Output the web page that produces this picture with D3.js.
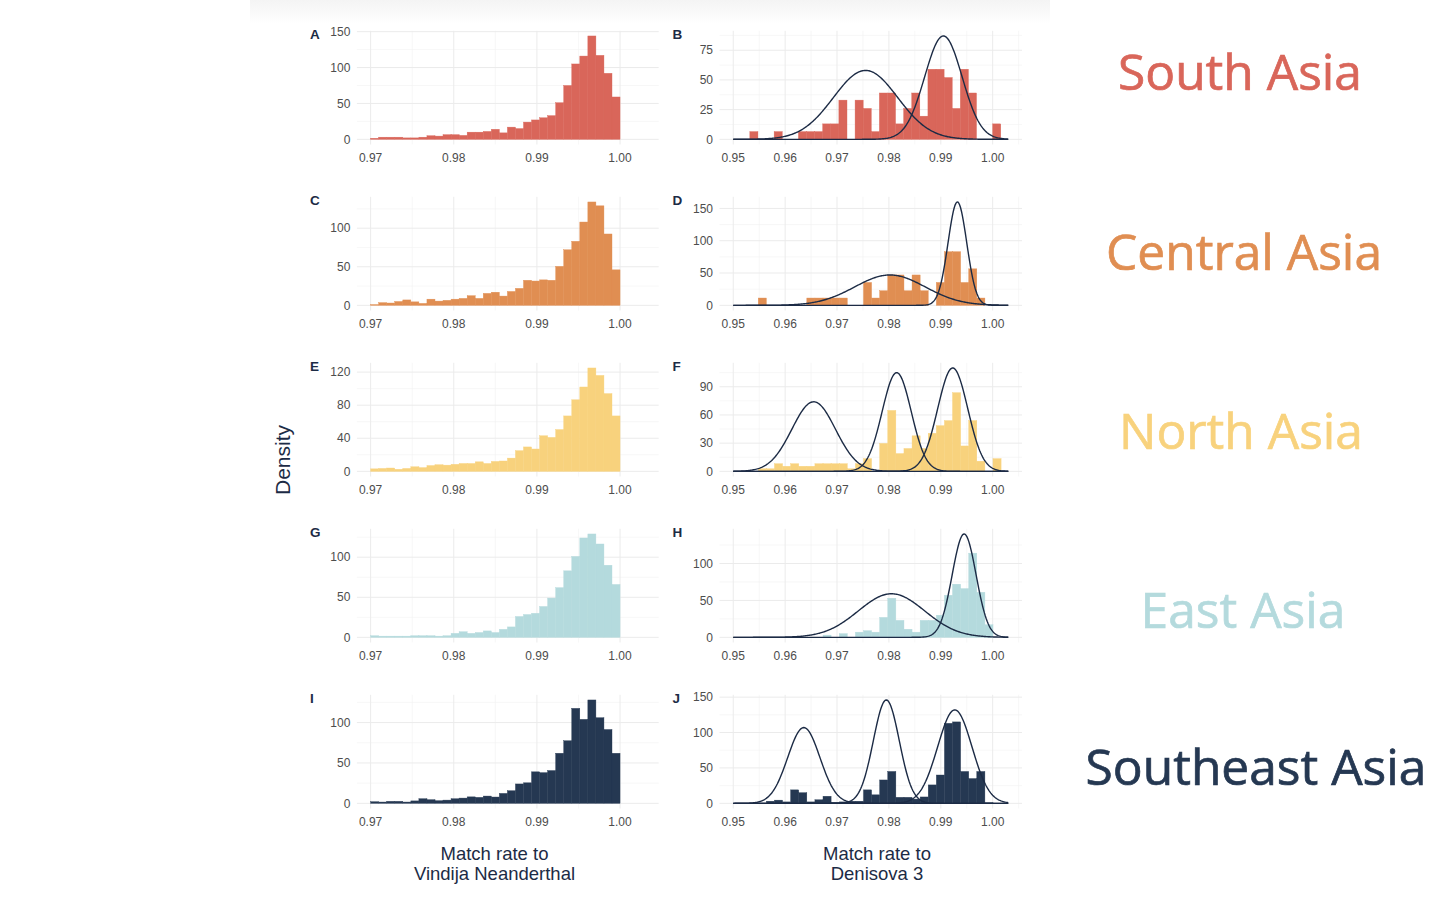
<!DOCTYPE html>
<html>
<head>
<meta charset="utf-8">
<script src="https://cdn.jsdelivr.net/npm/d3@7"></script>
<style>
  body { margin: 0; background: #fff; }
  svg { display: block; }
</style>
</head>
<body>
<div id="chart"></div>
<script>
// Regions, one row of panels each
const regions = ["South Asia", "Central Asia", "North Asia", "East Asia", "Southeast Asia"];
const regionColors = ["#d9665a", "#e08e52", "#f8d27d", "#b4dadd", "#253852"];
const leftLetters = ["A", "C", "E", "G", "I"];
const rightLetters = ["B", "D", "F", "H", "J"];

// Left column: match rate to Vindija Neanderthal, 31 bins from 0.970 to 1.000
const vindijaBinRange = [0.97, 1.0];
const vindijaSouth = [1.5, 3, 3, 3, 2, 2, 3, 5, 4.5, 6.5, 6.5, 5.5, 10, 10, 11, 14, 9, 17, 15, 24, 27, 30, 33, 51, 75, 105, 116, 144, 117, 92, 59];
const vindijaCentral = [1, 3.5, 3, 5, 7, 4.5, 2.5, 8, 5.5, 6.5, 8, 9, 12.5, 9, 15.5, 17, 12, 18, 22, 32.5, 31.5, 33, 32.5, 50.5, 72, 83, 108, 134, 129, 92.5, 46];
const vindijaNorth = [3, 3.5, 4, 2.5, 3.5, 5.5, 4.5, 7, 8, 7.5, 8.5, 9.5, 9.5, 11.5, 9.5, 12, 12.5, 16, 25, 29.5, 27, 43, 41, 50.5, 67, 86.5, 102, 125, 116, 94, 67];
const vindijaEast = [2, 1.5, 1.5, 1.5, 1.5, 2, 2, 2, 1.5, 2, 5, 7, 5, 6, 8, 6, 10, 13, 26, 28.5, 30, 38.5, 49, 62, 83, 101, 124, 129, 116.5, 90, 66];
const vindijaSoutheast = [2, 1.6, 2.5, 2.5, 1.6, 3, 5.7, 4.5, 3.3, 4, 5.7, 6.5, 8, 7.4, 9, 7.8, 12.3, 15.6, 24, 25.4, 39, 38, 40.6, 62, 77.5, 117.6, 104, 128, 106, 91.4, 62];
const vindijaTicks = [[0, 50, 100, 150], [0, 50, 100], [0, 40, 80, 120], [0, 50, 100], [0, 50, 100]];
const vindijaXTicks = [0.97, 0.98, 0.99, 1.0];

// Right column: match rate to Denisova 3, bins of width 0.00156
const denisovaBinWidth = 0.00156;
const denisovaBinStart = [0.9532, 0.95482, 0.95482, 0.95482, 0.95482];
const denisovaSouth = [6.5, 0, 0, 6.5, 0, 0, 6.5, 6.5, 6.5, 13, 13, 33, 0, 33, 26, 6.5, 39, 39, 13, 26, 39, 19.5, 59, 59, 52, 26, 59, 39, 0, 0, 13];
const denisovaCentral = [11.3, 0, 0, 0, 0, 0, 11.3, 11.3, 11.3, 11.3, 11.3, 0, 0, 35.4, 11.3, 22.6, 47, 47, 22.6, 47, 22.6, 0, 35.4, 83, 83, 35.4, 56.5, 11.3];
const denisovaNorth = [2.7, 2.7, 8.1, 5.4, 8.1, 5.4, 5.4, 8.1, 8.1, 8.1, 8.1, 2.7, 8.1, 13.5, 0, 29.7, 64.8, 18.9, 24.3, 37.8, 24.3, 40.5, 48.6, 54, 83.7, 27, 54, 10.8, 0, 13.5];
const denisovaEast = [0, 0, 0, 0, 0, 0, 0, 0, 3, 0, 5, 0, 7, 9, 7, 27, 53, 23, 11, 7, 23, 23, 30, 57, 72, 66, 114, 61, 17];
const denisovaSoutheast = [0.5, 3, 4.5, 2, 19, 15, 2, 5, 10, 1.5, 2, 3, 3, 19, 12, 33, 45, 8.5, 8.5, 6, 9, 26, 40, 113, 115, 45, 35, 45, 1];
const denisovaTicks = [[0, 25, 50, 75], [0, 50, 100, 150], [0, 30, 60, 90], [0, 50, 100], [0, 50, 100, 150]];
const denisovaXTicks = [0.95, 0.96, 0.97, 0.98, 0.99, 1.0];

// Fitted normal components drawn over the Denisova histograms
const curveMeans = [[0.9755, 0.9905], [0.9802, 0.9932], [0.9655, 0.9815, 0.9923], [0.9805, 0.9945], [0.9636, 0.9795, 0.9927]];
const curveSds = [[0.0062, 0.0036], [0.0068, 0.0018], [0.0042, 0.0028, 0.0029], [0.0064, 0.0023], [0.0031, 0.0025, 0.0033]];
const curvePeaks = [[58, 87], [47, 160], [74, 105, 110], [59, 140], [107, 146, 132]];
const curveRange = [0.95, 1.003];

const vindijaData = [vindijaSouth, vindijaCentral, vindijaNorth, vindijaEast, vindijaSoutheast];
const denisovaData = [denisovaSouth, denisovaCentral, denisovaNorth, denisovaEast, denisovaSoutheast];

const W = 1456, H = 899;
const ink = "#1c2b45";
const tickColor = "#4d4d4d";
const rowTop = 30.8, rowStep = 166, panelH = 113.7;

const svg = d3.select("#chart").append("svg").attr("width", W).attr("height", H);

// faint grey band at the very top
const defs = svg.append("defs");
const grad = defs.append("linearGradient").attr("id", "topfade").attr("x1", 0).attr("y1", 0).attr("x2", 0).attr("y2", 1);
grad.append("stop").attr("offset", "0%").attr("stop-color", "#f4f4f4");
grad.append("stop").attr("offset", "100%").attr("stop-color", "#ffffff");
svg.append("rect").attr("x", 250).attr("y", 0).attr("width", 800).attr("height", 24).attr("fill", "url(#topfade)");

function minorBetween(ticks, domain) {
  const step = ticks[1] - ticks[0];
  const out = [];
  for (let v = ticks[0] - step / 2; v <= domain[1]; v += step) {
    if (v >= domain[0]) out.push(v);
  }
  return out;
}

function drawPanel(opts) {
  const { xDomain, xRange, xTicks, yTicks, bins, curves, color, letter, row } = opts;
  const top = rowTop + row * rowStep;
  const bottom = top + panelH;

  let M = d3.max(bins, (b) => b.v);
  if (curves) M = Math.max(M, d3.max(curves, (c) => c.peak));

  const x = d3.scaleLinear().domain(xDomain).range(xRange);
  const y = d3.scaleLinear().domain([-0.05 * M, 1.05 * M]).range([bottom, top]);

  const g = svg.append("g");

  // grid: minor then major
  const xMinor = minorBetween(xTicks, xDomain);
  const yMinor = minorBetween(yTicks, y.domain());
  g.selectAll(".vminor").data(xMinor).enter().append("line")
    .attr("x1", (d) => x(d)).attr("x2", (d) => x(d)).attr("y1", top).attr("y2", bottom)
    .attr("stroke", "#f2f2f2").attr("stroke-width", 0.6);
  g.selectAll(".hminor").data(yMinor).enter().append("line")
    .attr("x1", xRange[0]).attr("x2", xRange[1]).attr("y1", (d) => y(d)).attr("y2", (d) => y(d))
    .attr("stroke", "#f2f2f2").attr("stroke-width", 0.6);
  g.selectAll(".vmajor").data(xTicks).enter().append("line")
    .attr("x1", (d) => x(d)).attr("x2", (d) => x(d)).attr("y1", top).attr("y2", bottom)
    .attr("stroke", "#ebebeb").attr("stroke-width", 1);
  g.selectAll(".hmajor").data(yTicks).enter().append("line")
    .attr("x1", xRange[0]).attr("x2", xRange[1]).attr("y1", (d) => y(d)).attr("y2", (d) => y(d))
    .attr("stroke", "#ebebeb").attr("stroke-width", 1);

  // histogram bars
  g.selectAll(".bar").data(bins.filter((b) => b.v > 0)).enter().append("rect")
    .attr("x", (d) => x(d.x0))
    .attr("width", (d) => x(d.x1) - x(d.x0))
    .attr("y", (d) => y(d.v))
    .attr("height", (d) => y(0) - y(d.v))
    .attr("fill", color)
    .attr("stroke", color)
    .attr("stroke-width", 0.4);

  // fitted components
  if (curves) {
    const xs = d3.range(0, 301).map((i) => curveRange[0] + (curveRange[1] - curveRange[0]) * i / 300);
    const line = d3.line().x((d) => x(d[0])).y((d) => y(d[1]));
    curves.forEach((c) => {
      const pts = xs.map((v) => [v, c.peak * Math.exp(-0.5 * ((v - c.mean) / c.sd) ** 2)]);
      g.append("path").attr("d", line(pts)).attr("fill", "none")
        .attr("stroke", ink).attr("stroke-width", 1.4);
    });
  }

  // tick labels
  g.selectAll(".xl").data(xTicks).enter().append("text")
    .attr("x", (d) => x(d)).attr("y", bottom + 17.2)
    .attr("text-anchor", "middle")
    .attr("font-family", "Liberation Sans, Arial, sans-serif").attr("font-size", 12)
    .attr("fill", tickColor).text(d3.format(".2f"));
  g.selectAll(".yl").data(yTicks).enter().append("text")
    .attr("x", xRange[0] - 6.5).attr("y", (d) => y(d) + 4.2)
    .attr("text-anchor", "end")
    .attr("font-family", "Liberation Sans, Arial, sans-serif").attr("font-size", 12)
    .attr("fill", tickColor).text((d) => d);

  // panel letter
  g.append("text").attr("x", xRange[0] - 47).attr("y", top + 8.5)
    .attr("font-family", "Liberation Sans, Arial, sans-serif").attr("font-size", 13.5).attr("font-weight", "bold")
    .attr("fill", ink).text(letter);
}

function toBins(values, start, width) {
  return values.map((v, i) => ({ x0: start + i * width, x1: start + (i + 1) * width, v }));
}

regions.forEach((name, r) => {
  const vw = (vindijaBinRange[1] - vindijaBinRange[0]) / vindijaData[r].length;
  drawPanel({
    xDomain: [0.96835, 1.00465], xRange: [356.9, 658.7],
    xTicks: vindijaXTicks, yTicks: vindijaTicks[r],
    bins: toBins(vindijaData[r], vindijaBinRange[0], vw),
    color: regionColors[r], letter: leftLetters[r], row: r
  });
  drawPanel({
    xDomain: [0.94735, 1.00565], xRange: [719.5, 1022.0],
    xTicks: denisovaXTicks, yTicks: denisovaTicks[r],
    bins: toBins(denisovaData[r], denisovaBinStart[r], denisovaBinWidth),
    curves: curveMeans[r].map((m, k) => ({ mean: m, sd: curveSds[r][k], peak: curvePeaks[r][k] })),
    color: regionColors[r], letter: rightLetters[r], row: r
  });
});

// region names on the right
const labelX = [1240, 1244, 1241, 1243, 1256];
const labelY = [90, 270, 449, 628, 785];
regions.forEach((name, r) => {
  svg.append("text").attr("x", labelX[r]).attr("y", labelY[r])
    .attr("text-anchor", "middle")
    .attr("font-family", "Open Sans, Noto Sans, sans-serif").attr("font-size", 49.7)
    .attr("fill", regionColors[r])
    .attr("stroke", regionColors[r]).attr("stroke-width", 0.7)
    .text(name);
});

// axis titles
svg.append("text").attr("transform", "translate(290,460) rotate(-90)")
  .attr("text-anchor", "middle")
  .attr("font-family", "Liberation Sans, Arial, sans-serif").attr("font-size", 21)
  .attr("fill", ink).text("Density");

const titleFont = "Liberation Sans, Arial, sans-serif";
[["Match rate to", "Vindija Neanderthal", 494.5], ["Match rate to", "Denisova 3", 877]].forEach(([a, b, cx]) => {
  const t = svg.append("text").attr("text-anchor", "middle")
    .attr("font-family", titleFont).attr("font-size", 18.5).attr("fill", ink);
  t.append("tspan").attr("x", cx).attr("y", 859.5).text(a);
  t.append("tspan").attr("x", cx).attr("y", 879.5).text(b);
});
</script>
</body>
</html>
